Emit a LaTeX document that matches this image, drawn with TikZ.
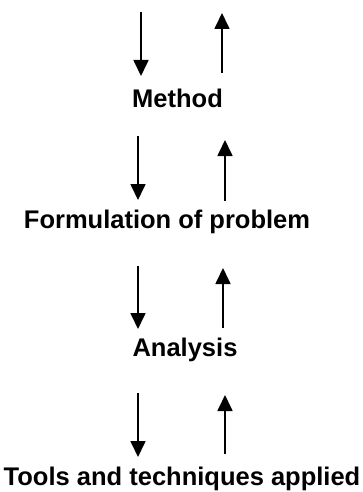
\documentclass[tikz,border=0pt]{standalone}
\usepackage{fontspec}
\setmainfont{Liberation Sans}
\usetikzlibrary{arrows.meta}
\begin{document}
\begin{tikzpicture}[x=1pt,y=-1pt,
  label/.style={font=\bfseries\fontsize{25.5}{30}\selectfont, inner sep=0pt, anchor=base},
  flow/.style={line width=1.7pt, -{Triangle[width=15pt,length=16pt]}}]
\useasboundingbox (0,0) rectangle (363,492);

% stage labels
\node[label] (meth) at (177.5,107) {Method};
\node[label] (form) at (167,228) {Formulation of problem};
\node[label] (anal) at (185,356) {Analysis};
\node[label] (tool) at (182,485) {Tools and techniques applied};

% arrow end points
\coordinate (d1s) at (141,12);  \coordinate (d1e) at (141,76);
\coordinate (u1s) at (222,73);  \coordinate (u1e) at (222,13);
\coordinate (d2s) at (138,136); \coordinate (d2e) at (138,200);
\coordinate (u2s) at (225,201); \coordinate (u2e) at (225,140);
\coordinate (d3s) at (138,266); \coordinate (d3e) at (138,329);
\coordinate (u3s) at (223,328); \coordinate (u3e) at (223,268);
\coordinate (d4s) at (138,393); \coordinate (d4e) at (138,457);
\coordinate (u4s) at (225,454); \coordinate (u4e) at (225,395);

% downward and upward arrows between stages
\foreach \i in {1,2,3,4}{
  \draw[flow] (d\i s) -- (d\i e);
  \draw[flow] (u\i s) -- (u\i e);
}
\end{tikzpicture}
\end{document}
